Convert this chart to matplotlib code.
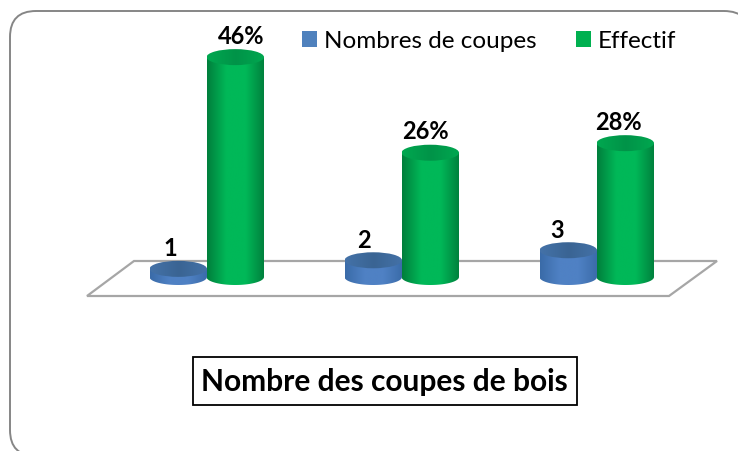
import numpy as np
import matplotlib
matplotlib.use("Agg")
import matplotlib.pyplot as plt
from matplotlib.colors import LinearSegmentedColormap
from matplotlib.patches import Ellipse, FancyBboxPatch, Patch, PathPatch, Polygon, Rectangle
from matplotlib.path import Path

plt.rcParams['font.family'] = ['Lato', 'DejaVu Sans']

categories = [0, 1, 2]
series_names = ["Nombres de coupes", "Effectif"]
coupes_heights = [1.7, 3.5, 5.6]        # height, in axis units
coupes_labels = ["1", "2", "3"]
effectif_values = [46, 26, 28]
effectif_labels = ["46%", "26%", "28%"]
title_text = "Nombre des coupes de bois"

W, H = 738, 451
PX_X = 195.0        # pixels per category
PX_Y = 4.78         # pixels per axis unit
BASE_X = 206.75     # pixel of category 0
BASE_Y = 277.0      # pixel of value 0
BAR_W = 57.5 / PX_X
OFFSET = 28.5 / PX_X
ELL_H = 16 / PX_Y

fig = plt.figure(figsize=(W / 100, H / 100), dpi=100, facecolor='white')

# background layer in pixels: frame, floor, title box
bg = fig.add_axes([0, 0, 1, 1])
bg.set_xlim(0, W)
bg.set_ylim(H, 0)
bg.axis('off')
bg.add_patch(FancyBboxPatch((10, 11), 740, 445, boxstyle="round,pad=0,rounding_size=26",
                            fc='white', ec='#868686', lw=1.4))
bg.add_patch(Polygon([(134, 261), (717, 261), (669, 296), (87, 296)], closed=True,
                     fc='white', ec='#a6a6a6', lw=1.6))

# chart layer on top, real scales
ax = fig.add_axes([0, 0, 1, 1])
ax.patch.set_alpha(0)
ax.axis('off')


def cylinder(x, h, edge, mid, top_edge, top_mid):
    left = x - BAR_W / 2
    right = x + BAR_W / 2
    # body: straight sides and the lower half of the base ellipse
    t = np.linspace(np.pi, 2 * np.pi, 40)
    low = np.column_stack([x + BAR_W / 2 * np.cos(t), ELL_H / 2 * np.sin(t)])
    verts = np.vstack([[[left, h]], low, [[right, h]], [[left, h]]])
    body = PathPatch(Path(verts), fc='none', ec='none', transform=ax.transData)
    ax.add_patch(body)
    cmap = LinearSegmentedColormap.from_list("c", [edge, mid, mid, edge])
    grad = np.linspace(0, 1, 128).reshape(1, -1)
    im = ax.imshow(grad, cmap=cmap, aspect='auto', extent=[left, right, -ELL_H, h + ELL_H], zorder=2)
    im.set_clip_path(body)
    # top face
    top = Ellipse((x, h), BAR_W, ELL_H, fc='none', ec='none')
    ax.add_patch(top)
    cmap2 = LinearSegmentedColormap.from_list("t", [top_edge, top_mid, top_edge])
    im2 = ax.imshow(grad, cmap=cmap2, aspect='auto', zorder=3,
                    extent=[left, right, h - ELL_H, h + ELL_H])
    im2.set_clip_path(top)


for i in categories:
    cylinder(i - OFFSET, coupes_heights[i], '#3a6ba8', '#4f81c4', '#4472a8', '#3a6493')
for i in categories:
    cylinder(i + OFFSET, effectif_values[i], '#007f3c', '#00b858', '#00a850', '#009348')

ax.set_xlim(-BASE_X / PX_X, (W - BASE_X) / PX_X)
ax.set_ylim(-(H - BASE_Y) / PX_Y, BASE_Y / PX_Y)

# data labels
coupes_dx = [-8, -9, -11]
effectif_dx = [6, -5, -7]
for i in categories:
    ax.annotate(coupes_labels[i], (i - OFFSET, coupes_heights[i]), xytext=(coupes_dx[i] * 0.72, 20 * 0.72),
                textcoords='offset points', ha='center', va='center',
                fontsize=17, fontweight='bold', color='black', zorder=5)
    ax.annotate(effectif_labels[i], (i + OFFSET, effectif_values[i]), xytext=(effectif_dx[i] * 0.72, 21 * 0.72),
                textcoords='offset points', ha='center', va='center',
                fontsize=17, fontweight='bold', color='black', zorder=5)

handles = [Patch(fc='#4f81bd', ec='none'), Patch(fc='#00b050', ec='none')]
ax.legend(handles, series_names, loc='center left', bbox_to_anchor=(302 / W, 1 - 41 / H),
          ncol=2, frameon=False, fontsize=17.5, handlelength=0.62, handleheight=0.62,
          handletextpad=0.29, columnspacing=1.6, borderpad=0, borderaxespad=0)

ax.text(384 / W, 1 - 382 / H, title_text, transform=ax.transAxes, ha='center', va='center',
        fontsize=21.5, fontweight='bold', color='black', zorder=5)
bg.add_patch(Rectangle((193, 357), 384, 48, fc='white', ec='black', lw=1.3))

fig.savefig("out.png", dpi=100)
